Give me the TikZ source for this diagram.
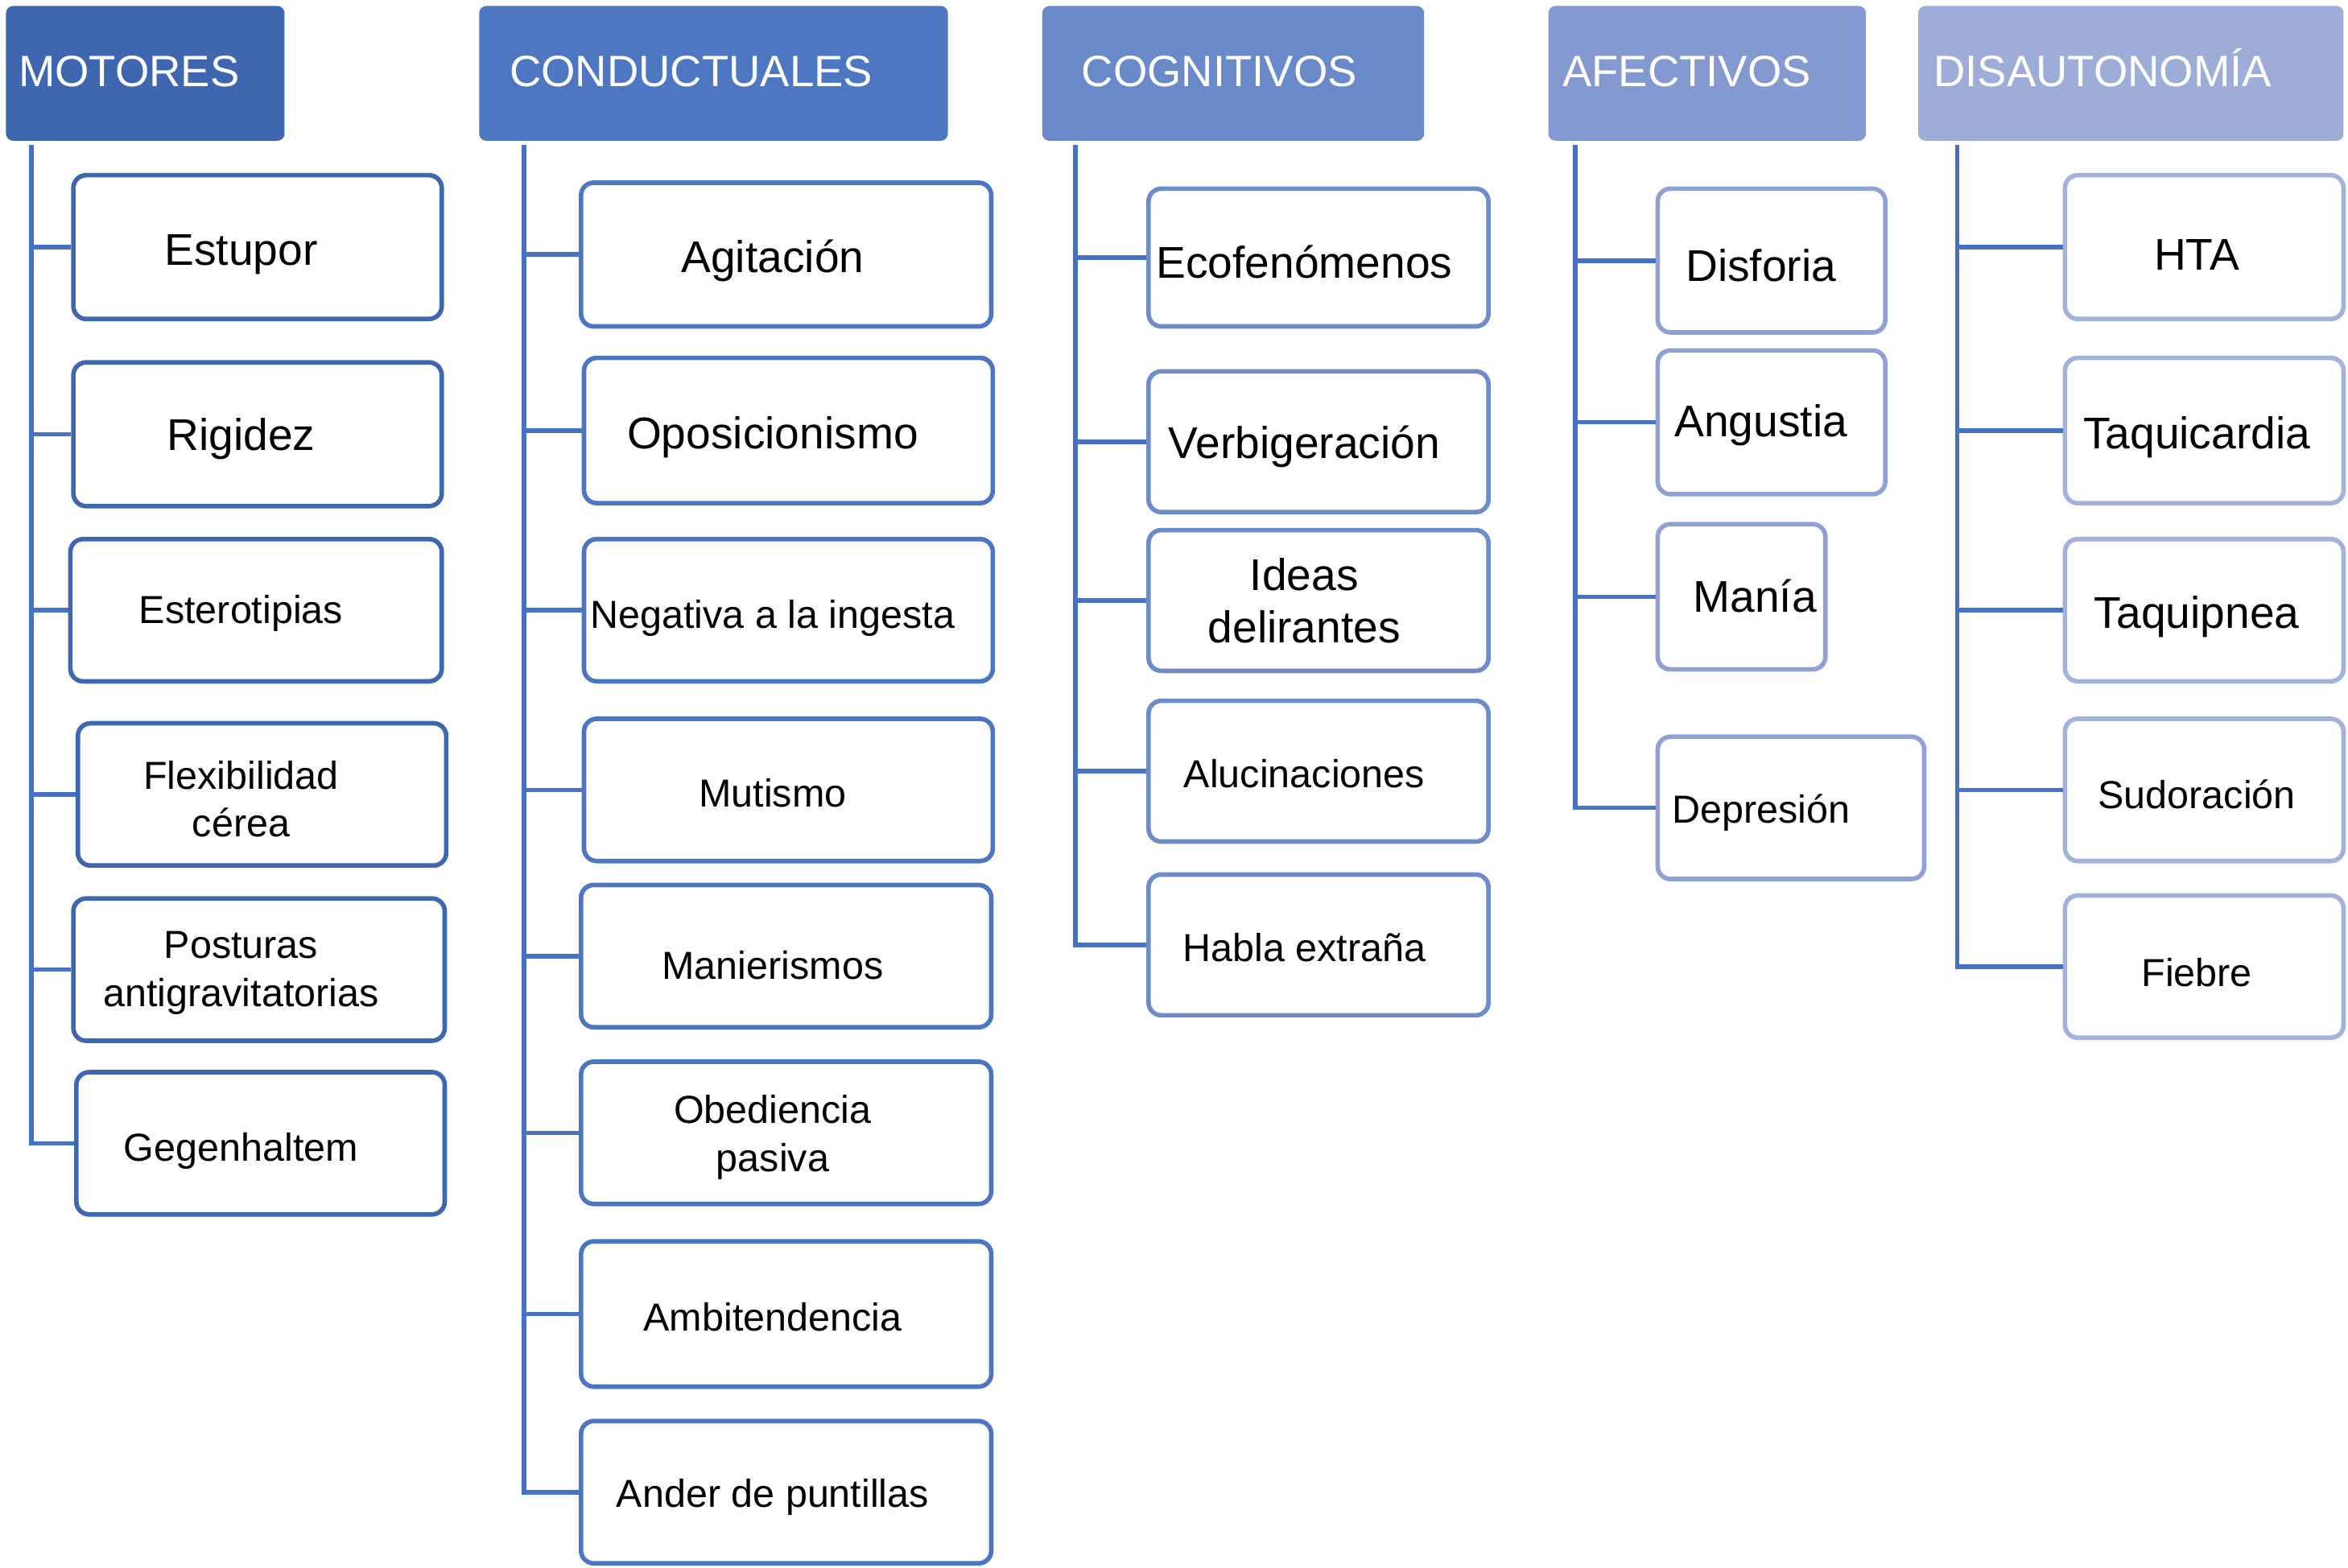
\documentclass[tikz,border=0pt]{standalone}
\usepackage{fontspec}
\setmainfont{Liberation Sans}
\usetikzlibrary{fit}
\definecolor{hA}{HTML}{3E67B0}
\definecolor{hB}{HTML}{4E77C2}
\definecolor{hC}{HTML}{6A89C8}
\definecolor{hD}{HTML}{8399D0}
\definecolor{hE}{HTML}{9DADD8}
\definecolor{bA}{HTML}{3E67B0}
\definecolor{bB}{HTML}{4D76C2}
\definecolor{bC}{HTML}{6E8CCA}
\definecolor{bD}{HTML}{8EA2D5}
\definecolor{bE}{HTML}{A3B2DB}
\definecolor{lineblue}{HTML}{4472C4}
\newcommand\bx[6]{\node[box, draw=#6, fit={(#2,#3) (#4,#5)}] (#1) {};}
\begin{document}
\begin{tikzpicture}[x=0.18603mm,y=-0.18603mm,
  hdr/.style={rounded corners=2.5pt, inner sep=0pt, draw=none},
  box/.style={rounded corners=4.5pt, line width=1.6pt, fill=white, inner sep=0pt},
  big/.style={font=\fontsize{15.7}{18.5}\selectfont, align=center, inner sep=0pt, yshift=-1.6pt},
  small/.style={font=\fontsize{13.8}{17}\selectfont, align=center, inner sep=0pt, yshift=-1.4pt},
  htxt/.style={font=\fontsize{15.5}{18}\selectfont, text=white, anchor=base west, inner sep=0pt},
  conn/.style={draw=lineblue, line width=1.6pt}]
\useasboundingbox (0,0) rectangle (1568,1047);

% headers
\node[hdr, fill=hA, fit={(4,4) (190,94)}] (H1) {};
\node[htxt] (H1t) at (12,58) {MOTORES};
\node[hdr, fill=hB, fit={(320,4) (633,94)}] (H2) {};
\node[htxt] (H2t) at (340,58) {CONDUCTUALES};
\node[hdr, fill=hC, fit={(696,4) (951,94)}] (H3) {};
\node[htxt] (H3t) at (722,58) {COGNITIVOS};
\node[hdr, fill=hD, fit={(1034,4) (1246,94)}] (H4) {};
\node[htxt] (H4t) at (1043,58) {AFECTIVOS};
\node[hdr, fill=hE, fit={(1281,4) (1565,94)}] (H5) {};
\node[htxt] (H5t) at (1291,58) {DISAUTONOMÍA};

\coordinate (T1) at (21,97);
\coordinate (T2) at (350,97);
\coordinate (T3) at (718,97);
\coordinate (T4) at (1052,97);
\coordinate (T5) at (1307,97);

% MOTORES
\bx{m1}{49}{117}{295}{213}{bA}
\bx{m2}{49}{242}{295}{338}{bA}
\bx{m3}{47}{360}{295}{455}{bA}
\bx{m4}{52}{483}{298}{578}{bA}
\bx{m5}{49}{600}{297}{695}{bA}
\bx{m6}{51}{716}{297}{811}{bA}
\node[big] (m1t) at (161,167) {Estupor};
\node[big] (m2t) at (161,290) {Rigidez};
\node[small] (m3t) at (161,407) {Esterotipias};
\node[small] (m4t) at (161,531) {Flexibilidad\\cérea};
\node[small] (m5t) at (161,647) {Posturas\\antigravitatorias};
\node[small] (m6t) at (161,766) {Gegenhaltem};

% CONDUCTUALES
\bx{c1}{388}{122}{662}{218}{bB}
\bx{c2}{390}{239}{663}{336}{bB}
\bx{c3}{390}{360}{663}{455}{bB}
\bx{c4}{390}{480}{663}{575}{bB}
\bx{c5}{388}{591}{662}{686}{bB}
\bx{c6}{388}{709}{662}{804}{bB}
\bx{c7}{388}{829}{662}{926}{bB}
\bx{c8}{388}{949}{662}{1044}{bB}
\node[big] (c1t) at (516,171) {Agitación};
\node[big] (c2t) at (516,289) {Oposicionismo};
\node[small] (c3t) at (516,410) {Negativa a la ingesta};
\node[small] (c4t) at (516,527) {Mutismo};
\node[small] (c5t) at (516,642) {Manierismos};
\node[small] (c6t) at (516,757) {Obediencia\\pasiva};
\node[small] (c7t) at (516,877) {Ambitendencia};
\node[small] (c8t) at (516,997) {Ander de puntillas};

% COGNITIVOS
\bx{g1}{767}{126}{994}{218}{bC}
\bx{g2}{767}{248}{994}{342}{bC}
\bx{g3}{767}{354}{994}{448}{bC}
\bx{g4}{767}{468}{994}{562}{bC}
\bx{g5}{767}{584}{994}{678}{bC}
\node[big] (g1t) at (871,172) {Ecofenómenos};
\node[big] (g2t) at (871,295) {Verbigeración};
\node[big] (g3t) at (871,398) {Ideas\\delirantes};
\node[small] (g4t) at (871,514) {Alucinaciones};
\node[small] (g5t) at (871,630) {Habla extraña};

% AFECTIVOS
\bx{a1}{1107}{126}{1259}{222}{bD}
\bx{a2}{1107}{234}{1259}{330}{bD}
\bx{a3}{1107}{350}{1219}{447}{bD}
\bx{a4}{1107}{492}{1285}{587}{bD}
\node[big] (a1t) at (1176,174) {Disforia};
\node[big] (a2t) at (1176,281) {Angustia};
\node[big] (a3t) at (1172,395) {Manía};
\node[small] (a4t) at (1176,540) {Depresión};

% DISAUTONOMIA
\bx{d1}{1379}{117}{1565}{213}{bE}
\bx{d2}{1379}{239}{1565}{336}{bE}
\bx{d3}{1379}{360}{1565}{455}{bE}
\bx{d4}{1379}{480}{1565}{575}{bE}
\bx{d5}{1379}{598}{1565}{693}{bE}
\node[big] (d1t) at (1467,167) {HTA};
\node[big] (d2t) at (1467,289) {Taquicardia};
\node[big] (d3t) at (1467,409) {Taquipnea};
\node[small] (d4t) at (1467,528) {Sudoración};
\node[small] (d5t) at (1467,647) {Fiebre};

% connectors
\draw[conn] (T1) |- (m6.west);
\foreach \b in {m1,m2,m3,m4,m5} \draw[conn] (T1 |- \b.west) -- (\b.west);
\draw[conn] (T2) |- (c8.west);
\foreach \b in {c1,c2,c3,c4,c5,c6,c7} \draw[conn] (T2 |- \b.west) -- (\b.west);
\draw[conn] (T3) |- (g5.west);
\foreach \b in {g1,g2,g3,g4} \draw[conn] (T3 |- \b.west) -- (\b.west);
\draw[conn] (T4) |- (a4.west);
\foreach \b in {a1,a2,a3} \draw[conn] (T4 |- \b.west) -- (\b.west);
\draw[conn] (T5) |- (d5.west);
\foreach \b in {d1,d2,d3,d4} \draw[conn] (T5 |- \b.west) -- (\b.west);
\end{tikzpicture}
\end{document}
